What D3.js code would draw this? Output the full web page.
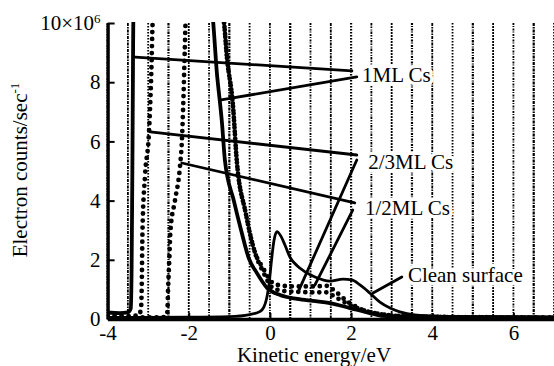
<!DOCTYPE html>
<html>
<head>
<meta charset="utf-8">
<script src="https://cdn.jsdelivr.net/npm/d3@7"></script>
<style>
body { margin: 0; background: #fff; }
svg { display: block; font-family: "Liberation Serif", "Times New Roman", serif; }
</style>
</head>
<body>
<div id="container"></div>
<script>
// tick values
const energyTicks = [-4, -2, 0, 2, 4, 6];
const countTicks = [0, 2, 4, 6, 8, 10];

// spectra: [kinetic energy (eV), counts (10^6/s)]
const ml1 = [[-4, 0.22], [-3.7, 0.2], [-3.5, 0.22], [-3.43, 0.35], [-3.41, 1.5], [-3.39, 5], [-3.36, 10.5],
    [-1.45, 10.5], [-1.3, 8.2], [-1.18, 6.6], [-1.11, 5.37], [-0.89, 4.0], [-0.71, 3.0], [-0.52, 2.05],
    [-0.32, 1.55], [-0.07, 1.05], [0.25, 0.81], [0.67, 0.68], [1.06, 0.61], [1.48, 0.54], [1.97, 0.37],
    [2.46, 0.2], [2.75, 0.11], [3.5, 0.07], [5, 0.05], [7, 0.04]];

const ml23 = [[-4, 0.12], [-3.5, 0.1], [-3.25, 0.12], [-3.18, 0.3], [-3.16, 1.0], [-3.14, 3.0], [-3.08, 4.8],
    [-2.98, 6.3], [-2.93, 8], [-2.88, 10.2],
    [-1.16, 10.2], [-1.05, 8.7], [-0.91, 7.2], [-0.82, 5.4], [-0.6, 3.6], [-0.37, 2.25], [-0.17, 1.72],
    [0.07, 1.22], [0.32, 1.12], [0.66, 1.1], [1.06, 1.1], [1.4, 1.12], [1.55, 1.0], [1.9, 0.6],
    [2.3, 0.3], [2.8, 0.15], [3.5, 0.08], [7, 0.05]];

const ml12 = [[-4, 0.05], [-3, 0.05], [-2.6, 0.06], [-2.53, 0.2], [-2.51, 1.0], [-2.48, 2.0], [-2.45, 3.0],
    [-2.34, 4.0], [-2.22, 5.1], [-2.17, 6.0], [-2.13, 7.5], [-2.1, 9], [-2.07, 10.2],
    [-1.16, 10.2], [-1.05, 8.7], [-0.91, 7.2], [-0.82, 5.4], [-0.6, 3.6], [-0.37, 2.25], [-0.17, 1.6],
    [0.07, 1.05], [0.32, 0.95], [0.66, 0.92], [1.06, 0.9], [1.4, 0.9], [1.6, 0.75], [2.0, 0.45],
    [2.5, 0.22], [3.0, 0.12], [4, 0.07], [7, 0.04]];

const clean = [[-4, 0.05], [-2, 0.06], [-1, 0.08], [-0.5, 0.15], [-0.25, 0.25], [-0.15, 0.4], [-0.08, 0.7],
    [-0.02, 1.2], [0.04, 2.0], [0.1, 2.65], [0.17, 2.95], [0.27, 2.8], [0.37, 2.5], [0.49, 2.1],
    [0.67, 1.8], [0.86, 1.6], [1.11, 1.42], [1.48, 1.28], [1.8, 1.35], [2.02, 1.32], [2.22, 1.15],
    [2.46, 0.88], [2.71, 0.57], [2.96, 0.37], [3.2, 0.24], [3.57, 0.14], [4.19, 0.1], [5.5, 0.08], [7, 0.07]];

// annotation text: [label, energy, counts]
const labelNames = ["1ML Cs", "2/3ML Cs", "1/2ML Cs", "Clean surface"];
const labelPos = [[2.27, 8.0], [2.42, 5.07], [2.34, 3.51], [3.40, 1.25]];

// leader lines [e1, c1, e2, c2]
const leaders = [[-3.32, 8.85, 2.02, 8.38], [-1.2, 7.4, 2.14, 8.18], [-2.95, 6.32, 2.14, 5.54],
    [2.14, 5.37, 0.69, 0.9], [-2.17, 5.27, 2.09, 3.92], [2.04, 3.68, 1.11, 1.15], [3.25, 1.42, 2.54, 0.88]];

const width = 554, height = 366;

const svg = d3.select("#container").append("svg")
    .attr("width", width)
    .attr("height", height);

const x = d3.scaleLinear().domain([-4, 7]).range([107.6, 554]);
const y = d3.scaleLinear().domain([0, 10]).range([319, 23]);

svg.append("clipPath").attr("id", "plotclip")
    .append("rect")
    .attr("x", x(-4))
    .attr("y", y(10.03))
    .attr("width", x(7) - x(-4) + 2)
    .attr("height", y(-0.3) - y(10.03));

// scanned dotted verticals every 0.5 eV
const dashes = ["2,1,1,1.5", "3,1,1.5,1", "1.5,1.5", "2.5,1,1.5,1.5,1,1", "2,1"];
svg.append("g")
    .selectAll("line")
    .data(d3.range(-4, 7.01, 0.5))
    .join("line")
    .attr("x1", d => x(d)).attr("x2", d => x(d))
    .attr("y1", y(10)).attr("y2", y(0))
    .attr("stroke", "#000")
    .attr("stroke-width", (d, i) => i % 3 == 0 ? 2.2 : 1.8)
    .attr("stroke-dasharray", (d, i) => dashes[i % dashes.length]);

const line = d3.line()
    .x(d => x(d[0]))
    .y(d => y(d[1]))
    .curve(d3.curveMonotoneX);

const plot = svg.append("g").attr("clip-path", "url(#plotclip)");

plot.append("path").datum(clean)
    .attr("d", line).attr("fill", "none")
    .attr("stroke", "#000").attr("stroke-width", 2.8);

plot.append("path").datum(ml12)
    .attr("d", line).attr("fill", "none")
    .attr("stroke", "#000").attr("stroke-width", 4.8)
    .attr("stroke-linecap", "round")
    .attr("stroke-dasharray", "0,7");

plot.append("path").datum(ml23)
    .attr("d", line).attr("fill", "none")
    .attr("stroke", "#000").attr("stroke-width", 4.8)
    .attr("stroke-linecap", "round")
    .attr("stroke-dasharray", "0,7");

plot.append("path").datum(ml1)
    .attr("d", line).attr("fill", "none")
    .attr("stroke", "#000").attr("stroke-width", 3.8);

// labels with a white gap behind them
svg.append("g")
    .selectAll("text")
    .data(labelNames)
    .join("text")
    .attr("x", (d, i) => x(labelPos[i][0]))
    .attr("y", (d, i) => y(labelPos[i][1]))
    .attr("font-size", 21)
    .attr("stroke", "#fff")
    .attr("stroke-width", 7)
    .attr("stroke-linejoin", "round")
    .attr("paint-order", "stroke")
    .attr("fill", "#000")
    .text(d => d);

// leaders
svg.append("g")
    .selectAll("line")
    .data(leaders)
    .join("line")
    .attr("x1", d => x(d[0])).attr("y1", d => y(d[1]))
    .attr("x2", d => x(d[2])).attr("y2", d => y(d[3]))
    .attr("stroke", "#000")
    .attr("stroke-width", 2.8)
    .attr("stroke-linecap", "round");

// axes
const xAxis = svg.append("g")
    .attr("transform", `translate(0, ${y(0)})`)
    .call(d3.axisBottom(x).tickValues(energyTicks).tickFormat(d => String(d))
        .tickSizeInner(-6).tickSizeOuter(0).tickPadding(6));

const yAxis = svg.append("g")
    .attr("transform", `translate(${x(-4)}, 0)`)
    .call(d3.axisLeft(y).tickValues(countTicks).tickFormat(d => String(d))
        .tickSizeInner(-7).tickSizeOuter(0).tickPadding(7));

[xAxis, yAxis].forEach(a => {
    a.select(".domain").attr("stroke-width", 3.4);
    a.selectAll(".tick line").attr("stroke-width", 2);
    a.selectAll("text").attr("font-size", 21).attr("font-family", "Liberation Serif, Times New Roman, serif");
});

yAxis.selectAll(".tick text")
    .filter(d => d == 10)
    .text("10×10")
    .append("tspan")
    .attr("font-size", 13)
    .attr("dy", "-0.55em")
    .text("6");

// axis titles
svg.append("text")
    .attr("x", 314)
    .attr("y", 362)
    .attr("text-anchor", "middle")
    .attr("font-size", 21)
    .text("Kinetic energy/eV");

const ytitle = svg.append("text")
    .attr("transform", "translate(27, 170) rotate(-90)")
    .attr("text-anchor", "middle")
    .attr("font-size", 21)
    .text("Electron counts/sec");
ytitle.append("tspan")
    .attr("font-size", 13)
    .attr("dy", -8)
    .text("-1");
</script>
</body>
</html>
